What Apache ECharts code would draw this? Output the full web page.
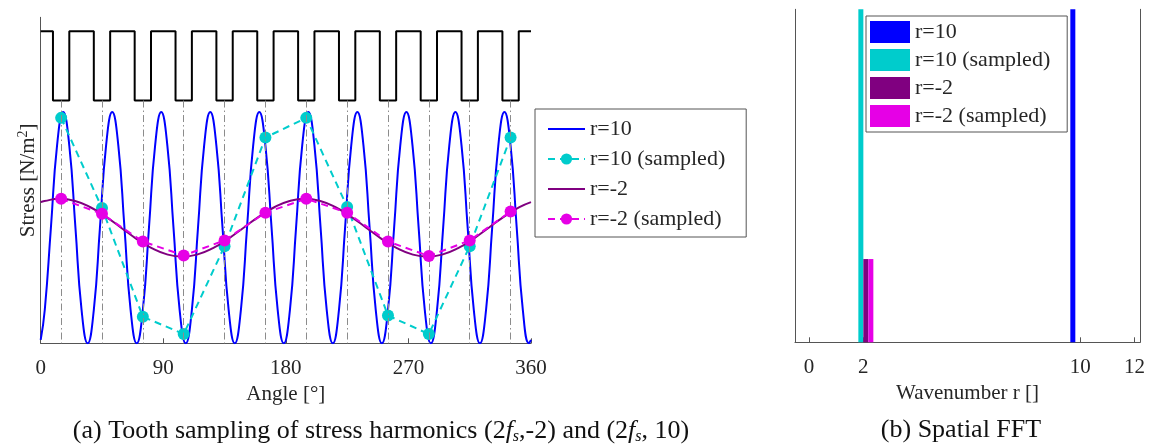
<!DOCTYPE html>
<html>
<head>
<meta charset="utf-8">
<script src="https://cdn.jsdelivr.net/npm/echarts@6/dist/echarts.min.js"></script>
<style>
html,body{margin:0;padding:0;background:#fff;}
#c{width:1155px;height:446px;}
</style>
</head>
<body>
<div id="c"></div>
<script>
// ---------- data ----------
// tooth positions (deg) and sampled values
var teethAngles = [15, 45, 75, 105, 135, 165, 195, 225, 255, 285, 315, 345];
var r10Sampled = [0.95, 0.17, -0.77, -0.92, -0.16, 0.78, 0.95, 0.18, -0.76, -0.92, -0.16, 0.78];
var r2Sampled = [0.25, 0.12, -0.12, -0.24, -0.11, 0.13, 0.25, 0.13, -0.12, -0.245, -0.11, 0.14];

// continuous harmonic r=10 (points read at peaks, troughs, crossings and between)
var r10Angles = [0, 3, 7.5, 12, 16.5, 21, 25.5, 30, 34.5, 39, 43.5, 48, 52.5, 57, 61.5, 66, 70.5, 75, 79.5, 84, 88.5,
  93, 97.5, 102, 106.5, 111, 115.5, 120, 124.5, 129, 133.5, 138, 142.5, 147, 151.5, 156, 160.5, 165, 169.5, 174, 178.5,
  183, 187.5, 192, 196.5, 201, 205.5, 210, 214.5, 219, 223.5, 228, 232.5, 237, 241.5, 246, 250.5, 255, 259.5, 264, 268.5,
  273, 277.5, 282, 286.5, 291, 295.5, 300, 304.5, 309, 313.5, 318, 322.5, 327, 331.5, 336, 340.5, 345, 349.5, 354, 358.5, 360];
var r10Values = [-0.97,
  -0.71, 0, 0.71, 1, 0.71, 0, -0.71, -1,
  -0.71, 0, 0.71, 1, 0.71, 0, -0.71, -1,
  -0.71, 0, 0.71, 1, 0.71, 0, -0.71, -1,
  -0.71, 0, 0.71, 1, 0.71, 0, -0.71, -1,
  -0.71, 0, 0.71, 1, 0.71, 0, -0.71, -1,
  -0.71, 0, 0.71, 1, 0.71, 0, -0.71, -1,
  -0.71, 0, 0.71, 1, 0.71, 0, -0.71, -1,
  -0.71, 0, 0.71, 1, 0.71, 0, -0.71, -1,
  -0.71, 0, 0.71, 1, 0.71, 0, -0.71, -1,
  -0.71, 0, 0.71, 1, 0.71, 0, -0.71, -1,
  -0.97];

// continuous harmonic r=-2
var r2Angles = [0, 2.75, 14, 25.25, 36.5, 47.75, 59, 70.25, 81.5, 92.75, 104, 115.25, 126.5, 137.75, 149, 160.25, 171.5,
  182.75, 194, 205.25, 216.5, 227.75, 239, 250.25, 261.5, 272.75, 284, 295.25, 306.5, 317.75, 329, 340.25, 351.5, 360];
var r2Values = [0.221,
  0.231, 0.25, 0.231, 0.177, 0.096, 0, -0.096, -0.177, -0.231, -0.25, -0.231, -0.177, -0.096, 0, 0.096, 0.177,
  0.231, 0.25, 0.231, 0.177, 0.096, 0, -0.096, -0.177, -0.231, -0.25, -0.231, -0.177, -0.096, 0, 0.096, 0.177,
  0.221];

// stator tooth/slot square wave (edges in deg, levels)
var squareAngles = [0, 9, 21, 39, 51, 69, 81, 99, 111, 129, 141, 159, 171, 189, 201, 219, 231, 249, 261, 279, 291, 309, 321, 339, 351, 360];
var squareLevels = [1.70, 1.10, 1.70, 1.10, 1.70, 1.10, 1.70, 1.10, 1.70, 1.10, 1.70, 1.10, 1.70, 1.10, 1.70, 1.10, 1.70, 1.10, 1.70, 1.10, 1.70, 1.10, 1.70, 1.10, 1.70, 1.70];
var toothLineTop = 1.10;
var toothLineBottom = -1;

// spatial FFT
var fftWavenumbers = [10, 2, 2, 2];
var fftAmplitudes = [1, 1, 0.25, 0.25];
var fftNames = ['r=10', 'r=10 (sampled)', 'r=-2', 'r=-2 (sampled)'];
var xTicksA = [0, 90, 180, 270, 360];
var xTicksB = [0, 2, 10, 12];

// ---------- chart ----------
var FONT = 'Liberation Serif';
var TXT = '#262626';
var AX = '#555555';
var colors = ['#0000ff', '#00cccc', '#800080', '#e600e6'];

function zip(a, b) { return a.map(function (v, i) { return [v, b[i]]; }); }

var toothLines = teethAngles.map(function (a) {
  return [{ coord: [a, toothLineTop] }, { coord: [a, toothLineBottom] }];
});

var chart = echarts.init(document.getElementById('c'), null, { renderer: 'canvas' });

var hiddenSymbol = { opacity: 0, color: 'rgba(0,0,0,0)', borderWidth: 0 };

var option = {
  animation: false,
  backgroundColor: '#ffffff',
  textStyle: { fontFamily: FONT },
  title: [
    {
      text: '(a) Tooth sampling of stress harmonics (2{i|f}{s|s},-2) and (2{i|f}{s|s}, 10)',
      left: 376, top: 412, textAlign: 'center',
      textStyle: {
        fontFamily: FONT, fontSize: 26, fontWeight: 'normal', color: '#111',
        rich: {
          i: { fontFamily: FONT, fontSize: 26, fontStyle: 'italic', color: '#111' },
          s: { fontFamily: FONT, fontSize: 16, fontStyle: 'italic', color: '#111', padding: [12, 0, 0, 0] }
        }
      }
    },
    {
      text: '(b) Spatial FFT',
      left: 956, top: 412, textAlign: 'center',
      textStyle: { fontFamily: FONT, fontSize: 26, fontWeight: 'normal', color: '#111' }
    }
  ],
  grid: [
    { left: 40.7, right: 624, top: 17.3, bottom: 102.7 },
    { left: 795, right: 15, top: 9.3, bottom: 103.7 }
  ],
  legend: [
    {
      data: [
        { name: fftNames[0], itemStyle: hiddenSymbol },
        { name: fftNames[1] },
        { name: fftNames[2], itemStyle: hiddenSymbol },
        { name: fftNames[3] }
      ],
      orient: 'vertical', left: 535, top: 109,
      padding: [9, 21, 7, 12], itemGap: 8, itemWidth: 37, itemHeight: 14,
      backgroundColor: '#fff', borderColor: '#555', borderWidth: 1,
      textStyle: { fontFamily: FONT, fontSize: 22, color: TXT },
      selectedMode: false
    },
    {
      data: fftNames.map(function (n) { return 'FFT ' + n; }),
      formatter: function (n) { return n.replace('FFT ', ''); },
      orient: 'vertical', left: 866, top: 16,
      padding: [5, 17, 5, 4], itemGap: 6, itemWidth: 40, itemHeight: 22,
      icon: 'rect',
      backgroundColor: '#fff', borderColor: '#555', borderWidth: 1,
      textStyle: { fontFamily: FONT, fontSize: 22, color: TXT },
      selectedMode: false
    }
  ],
  xAxis: [
    {
      gridIndex: 0, type: 'value', min: 0, max: 360, interval: 90,
      axisLine: { show: true, onZero: false, lineStyle: { color: AX, width: 1 } },
      axisTick: { show: true, inside: true, length: 5, lineStyle: { color: AX } },
      axisLabel: { fontFamily: FONT, fontSize: 21, color: TXT, margin: 15 },
      splitLine: { show: false },
      name: 'Angle [°]', nameLocation: 'middle', nameGap: 32,
      nameTextStyle: { fontFamily: FONT, fontSize: 21, color: TXT }
    },
    {
      gridIndex: 1, type: 'value', min: -0.52, max: 12.2,
      axisLine: { show: true, onZero: false, lineStyle: { color: AX, width: 1 } },
      axisTick: { show: true, inside: true, length: 5, customValues: xTicksB, lineStyle: { color: AX } },
      axisLabel: { fontFamily: FONT, fontSize: 21, color: TXT, margin: 15, customValues: xTicksB },
      splitLine: { show: false },
      name: 'Wavenumber r []', nameLocation: 'middle', nameGap: 32,
      nameTextStyle: { fontFamily: FONT, fontSize: 21, color: TXT }
    }
  ],
  yAxis: [
    {
      gridIndex: 0, type: 'value', min: -1, max: 1.82,
      axisLine: { show: true, onZero: false, lineStyle: { color: AX, width: 1 } },
      axisTick: { show: false }, axisLabel: { show: false }, splitLine: { show: false },
      name: 'Stress [N/m{sup|2}]', nameLocation: 'middle', nameGap: 0,
      nameTextStyle: {
        fontFamily: FONT, fontSize: 21, color: TXT,
        rich: { sup: { fontFamily: FONT, fontSize: 14, color: TXT, padding: [0, 0, 10, 0] } }
      }
    },
    {
      gridIndex: 1, type: 'value', min: 0, max: 1,
      axisLine: { show: true, onZero: false, lineStyle: { color: AX, width: 1 } },
      axisTick: { show: false }, axisLabel: { show: false }, splitLine: { show: false }
    },
    {
      gridIndex: 1, type: 'value', min: 0, max: 1, position: 'right',
      axisLine: { show: true, onZero: false, lineStyle: { color: AX, width: 1 } },
      axisTick: { show: false }, axisLabel: { show: false }, splitLine: { show: false }
    }
  ],
  series: [
    {
      name: 'teeth', type: 'line', xAxisIndex: 0, yAxisIndex: 0, data: [], z: 1,
      markLine: {
        silent: true, symbol: ['none', 'none'], animation: false,
        label: { show: false },
        lineStyle: { color: '#8c8c8c', width: 1, type: [7, 3, 1.5, 3] },
        data: toothLines
      }
    },
    {
      name: 'square', type: 'line', xAxisIndex: 0, yAxisIndex: 0, step: 'end',
      data: zip(squareAngles, squareLevels), symbol: 'none',
      lineStyle: { color: '#000', width: 2 }, z: 2
    },
    {
      name: 'r=10', type: 'line', xAxisIndex: 0, yAxisIndex: 0, smooth: true,
      data: zip(r10Angles, r10Values), symbol: 'none',
      color: colors[0], lineStyle: { color: colors[0], width: 2 }, z: 3
    },
    {
      name: 'r=10 (sampled)', type: 'line', xAxisIndex: 0, yAxisIndex: 0,
      data: zip(teethAngles, r10Sampled), symbol: 'circle', symbolSize: 12,
      color: colors[1], itemStyle: { color: colors[1] },
      lineStyle: { color: colors[1], width: 2, type: [7, 5] }, z: 4
    },
    {
      name: 'r=-2', type: 'line', xAxisIndex: 0, yAxisIndex: 0, smooth: true,
      data: zip(r2Angles, r2Values), symbol: 'none',
      color: colors[2], lineStyle: { color: colors[2], width: 2 }, z: 5
    },
    {
      name: 'r=-2 (sampled)', type: 'line', xAxisIndex: 0, yAxisIndex: 0,
      data: zip(teethAngles, r2Sampled), symbol: 'circle', symbolSize: 12,
      color: colors[3], itemStyle: { color: colors[3] },
      lineStyle: { color: colors[3], width: 2, type: [7, 5] }, z: 6
    }
  ].concat(fftNames.map(function (n, i) {
    return {
      name: 'FFT ' + n, type: 'bar', xAxisIndex: 1, yAxisIndex: 1,
      barWidth: 5, barGap: '0%',
      color: colors[i], itemStyle: { color: colors[i] },
      data: [[fftWavenumbers[i], fftAmplitudes[i]]]
    };
  }))
};

chart.setOption(option);
</script>
</body>
</html>
